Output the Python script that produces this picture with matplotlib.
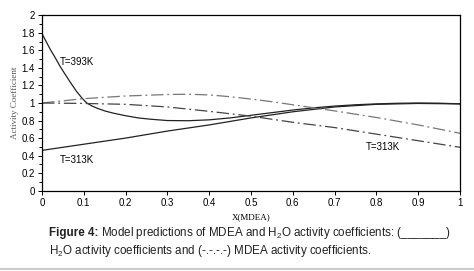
import matplotlib
matplotlib.use("Agg")
import matplotlib.pyplot as plt
import numpy as np

plt.rcParams['font.family'] = ['Liberation Sans', 'DejaVu Sans']
plt.rcParams['mathtext.fontset'] = 'custom'
plt.rcParams['mathtext.rm'] = 'Liberation Sans'
plt.rcParams['mathtext.it'] = 'Liberation Sans'

# data
x = [0, 0.01, 0.02, 0.03, 0.043, 0.055, 0.07, 0.083, 0.095, 0.107, 0.12, 0.135, 0.15, 0.17,
     0.2, 0.23, 0.26, 0.3, 0.35, 0.4, 0.45, 0.5, 0.55, 0.6, 0.65, 0.7, 0.75, 0.8, 0.85, 0.9, 0.95, 1.0]
h2o_393 = [1.79, 1.70, 1.61, 1.53, 1.42, 1.33, 1.22, 1.13, 1.06, 1.0, 0.965, 0.935, 0.91, 0.885,
           0.855, 0.83, 0.815, 0.80, 0.798, 0.808, 0.83, 0.86, 0.89, 0.92, 0.945, 0.965, 0.98, 0.99, 0.997, 1.0, 0.998, 0.99]

x2 = [0, 0.1, 0.2, 0.3, 0.4, 0.5, 0.6, 0.7, 0.8, 0.9, 1.0]
h2o_313 = [0.46, 0.53, 0.60, 0.68, 0.75, 0.83, 0.90, 0.955, 0.985, 0.995, 0.99]
mdea_313 = [1.0, 0.995, 0.985, 0.955, 0.905, 0.85, 0.78, 0.72, 0.645, 0.57, 0.495]

x3 = [0, 0.1, 0.2, 0.3, 0.35, 0.4, 0.45, 0.5, 0.55, 0.6, 0.7, 0.8, 0.9, 1.0]
mdea_393 = [1.0, 1.05, 1.08, 1.097, 1.10, 1.092, 1.072, 1.045, 1.015, 0.98, 0.91, 0.835, 0.75, 0.655]

xticks = [0, 0.1, 0.2, 0.3, 0.4, 0.5, 0.6, 0.7, 0.8, 0.9, 1]
yticks = [0, 0.2, 0.4, 0.6, 0.8, 1, 1.2, 1.4, 1.6, 1.8, 2]

fig = plt.figure(figsize=(4.74, 2.71), dpi=100)
ax = fig.add_axes([0.0886, 0.2963, 0.8819, 0.6472])

dd = (0, (10, 3, 1.5, 3))
ax.plot(x, h2o_393, color='#222222', lw=0.9)
ax.plot(x2, h2o_313, color='#222222', lw=0.9)
ax.plot(x3, mdea_393, color='#777777', lw=0.9, linestyle=dd)
ax.plot(x2, mdea_313, color='#444444', lw=0.9, linestyle=dd)

ax.text(0.043, 1.47, 'T=393K', fontsize=7, va='center')
ax.text(0.043, 0.35, 'T=313K', fontsize=7, va='center')
ax.text(0.775, 0.495, 'T=313K', fontsize=7, va='center')

ax.set_xlim(0, 1)
ax.set_ylim(0, 2)
ax.set_xticks(xticks)
ax.set_xticklabels([('%g' % t) for t in xticks])
ax.set_yticks(yticks)
ax.set_yticklabels([('%g' % t) for t in yticks])
ax.set_yticks(np.arange(0.1, 2, 0.2), minor=True)
ax.tick_params(axis='both', labelsize=7, length=3, width=0.7, pad=2, direction='out')
ax.tick_params(axis='y', which='minor', length=2, width=0.7)
for s in ax.spines.values():
    s.set_linewidth(0.9)

ax.set_xlabel('X(MDEA)', fontsize=6.5, family='Liberation Serif', labelpad=4)
ax.set_ylabel('Activity Coefficient', fontsize=6.5, color='#555555', family='Liberation Serif', labelpad=2)

# caption
r = fig.canvas.get_renderer()
t = fig.text(0.103, 0.128, 'Figure 4:', fontsize=8.4, fontweight='bold', color='#222222')
bb = t.get_window_extent(renderer=r)
fig.text(bb.x1 / fig.bbox.width + 0.006, 0.128,
         'Model predictions of MDEA and H$_2$O activity coefficients: (_______)',
         fontsize=8.4, color='#222222')
fig.text(0.103, 0.062, 'H$_2$O activity coefficients and (-.-.-.-) MDEA activity coefficients.',
         fontsize=8.4, color='#222222')

fig.add_artist(plt.Line2D([0, 1], [0.006, 0.006], color='#cccccc', lw=1.5))

fig.savefig('out.png', dpi=100)
